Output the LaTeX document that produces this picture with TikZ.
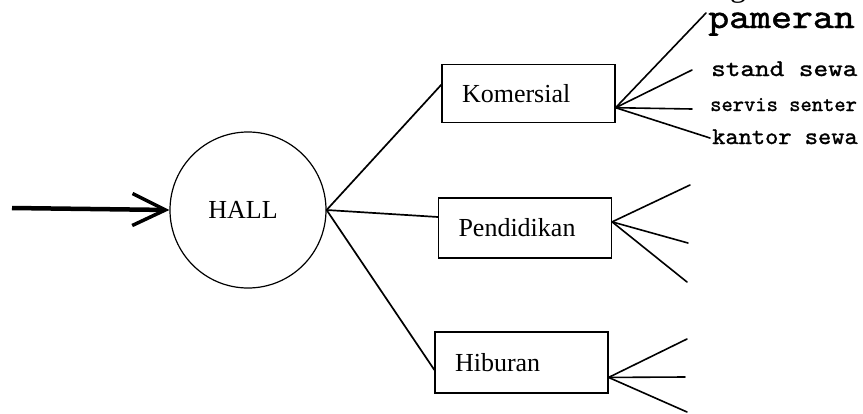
\documentclass[tikz,border=0pt]{standalone}
\usepackage{fontspec}
\setmainfont{Liberation Serif}
\newfontfamily\typewr{lmmono10-regular.otf}[FakeBold=1.2]
\usetikzlibrary{arrows.meta,calc}

\tikzset{
  conn/.style={line width=1.7pt, line cap=round},
  fanline/.style={line width=1.6pt, line cap=round},
  groupbox/.style={draw, line width=1.2pt, rectangle, minimum width=173pt,
    minimum height=58pt, inner xsep=20pt, text width=133pt, align=left,
    font=\fontsize{26}{28}\selectfont},
  hub/.style={draw, circle, line width=1.2pt, minimum size=156pt, inner sep=0pt,
    font=\fontsize{26}{28}\selectfont},
  sublabel/.style={anchor=base west, inner sep=0pt}
}

\begin{document}
\begin{tikzpicture}[x=1pt, y=-1pt]
  \useasboundingbox (0,0) rectangle (863,413);

  % central hall and the three groups
  \node[hub] (hall) at (248,210) {\hspace*{-10pt}HALL};
  \node[groupbox] (kom) at (528.5,93.5) {Komersial};
  \node[groupbox, minimum height=60pt] (pen) at (525,228) {Pendidikan};
  \node[groupbox, minimum height=61pt] (hib) at (521.5,362.5) {Hiburan};

  % entrance arrow
  \coordinate (entry) at (12,208);
  \draw[line width=4.5pt, -{Straight Barb[length=33pt, width=32pt, line width=3.5pt]}]
    (entry) -- (hall.west);

  % hall to groups
  \draw[conn] (hall.east) -- ($(kom.north west)!0.35!(kom.south west)$);
  \draw[conn] (hall.east) -- ($(pen.north west)!0.32!(pen.south west)$);
  \draw[conn] (hall.east) -- ($(hib.north west)!0.62!(hib.south west)$);

  % fan-out points on the right of each group
  \coordinate (komR) at ($(kom.north east)!0.74!(kom.south east)$);
  \coordinate (penR) at ($(pen.north east)!0.40!(pen.south east)$);
  \coordinate (hibR) at ($(hib.north east)!0.74!(hib.south east)$);

  \coordinate (k1) at (706,13);  \coordinate (k2) at (692,70);
  \coordinate (k3) at (692,109); \coordinate (k4) at (710,138);
  \coordinate (p1) at (690,185); \coordinate (p2) at (688,243);
  \coordinate (p3) at (687,282);
  \coordinate (h1) at (687,339); \coordinate (h2) at (685,377);
  \coordinate (h3) at (687,412);

  \foreach \e in {k1,k2,k3,k4} \draw[fanline] (komR) -- (\e);
  \foreach \e in {p1,p2,p3} \draw[fanline] (penR) -- (\e);
  \foreach \e in {h1,h2,h3} \draw[fanline] (hibR) -- (\e);

  % commercial sub-functions
  \node[sublabel] (lpam) at (708,28)
    {\typewr\fontsize{35}{36}\selectfont\scalebox{1.14}[1]{pameran}};
  \node[sublabel] (lstand) at (711,76)
    {\typewr\fontsize{24}{26}\selectfont\scalebox{1.16}[1]{stand sewa}};
  \node[sublabel] (lservis) at (710,111)
    {\typewr\fontsize{21.5}{24}\selectfont servis senter};
  \node[sublabel] (lkantor) at (712,144)
    {\typewr\fontsize{24}{26}\selectfont\scalebox{1.05}[1]{kantor sewa}};

  % heading running off the top edge
  \begin{scope}
    \clip (0,0) rectangle (863,413);
    \node[sublabel] (lhead) at (730,-4) {\fontsize{32}{34}\selectfont general};
  \end{scope}
\end{tikzpicture}
\end{document}
